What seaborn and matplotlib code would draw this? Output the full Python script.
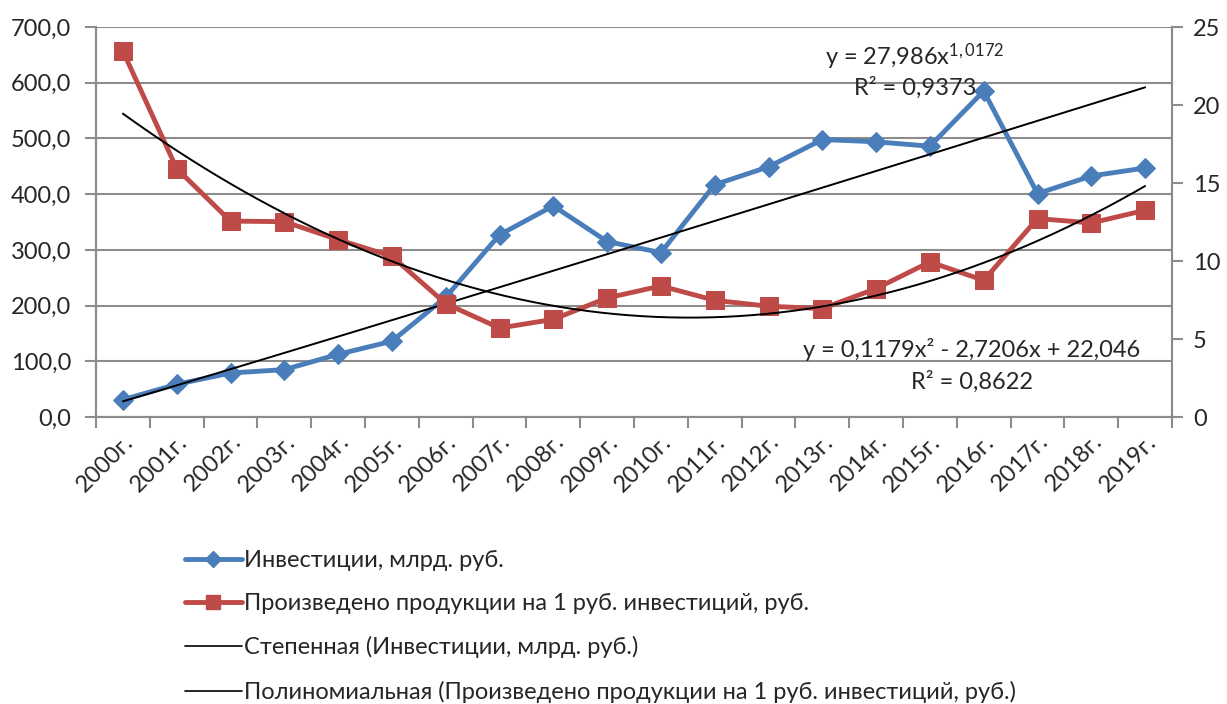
import numpy as np
import pandas as pd
import matplotlib
matplotlib.use("Agg")
import matplotlib.pyplot as plt
from matplotlib.lines import Line2D
from matplotlib.ticker import FixedLocator, FuncFormatter, NullFormatter
import seaborn as sns

years = ["2000г.", "2001г.", "2002г.", "2003г.", "2004г.", "2005г.", "2006г.",
         "2007г.", "2008г.", "2009г.", "2010г.", "2011г.", "2012г.", "2013г.",
         "2014г.", "2015г.", "2016г.", "2017г.", "2018г.", "2019г."]
invest = [31, 58.7, 79, 85, 112.5, 136, 215, 327, 379, 315, 295, 417, 449,
          498, 494, 486, 585, 401, 432.6, 447]
output_per_rub = [23.46, 15.92, 12.56, 12.52, 11.37, 10.3, 7.27, 5.7, 6.26,
                  7.63, 8.4, 7.48, 7.1, 6.95, 8.23, 9.94, 8.76, 12.72, 12.44, 13.25]

name_inv = "Инвестиции, млрд. руб."
name_out = "Произведено продукции на 1 руб. инвестиций, руб."
name_pow = "Степенная (Инвестиции, млрд. руб.)"
name_poly = "Полиномиальная (Произведено продукции на 1 руб. инвестиций, руб.)"
eq_pow = r"y = 27,986x$^{1,0172}$"
r2_pow = "R² = 0,9373"
eq_poly = "y = 0,1179x² - 2,7206x + 22,046"
r2_poly = "R² = 0,8622"

sns.set_theme(style="white")
FONT = ["Lato", "DejaVu Sans"]
plt.rcParams["font.family"] = FONT
plt.rcParams["mathtext.fontset"] = "custom"
plt.rcParams["mathtext.rm"] = "Lato"
plt.rcParams["mathtext.it"] = "Lato"
plt.rcParams["mathtext.default"] = "regular"

BLUE = "#4A7EBB"
RED = "#BE4B48"
GRID = "#8C8C8C"
FS = 17

df = pd.DataFrame({"pos": np.arange(len(years)), "year": years,
                   "inv": invest, "out": output_per_rub})

fig = plt.figure(figsize=(12.27, 7.04), dpi=100)
ax = fig.add_axes([96 / 1227, 1 - 417 / 704, (1172 - 96) / 1227, (417 - 27) / 704])
ax2 = ax.twinx()

# trend lines computed from data (Excel-style fits, x = 1..n)
t = np.arange(1, len(years) + 1, dtype=float)
b, ln_a = np.polyfit(np.log(t), np.log(np.array(invest)), 1)
tt = np.linspace(1, len(years), 300)
pow_df = pd.DataFrame({"pos": tt - 1, "val": np.exp(ln_a) * tt ** b})
pc = np.polyfit(t, np.array(output_per_rub), 2)
poly_df = pd.DataFrame({"pos": tt - 1, "val": np.polyval(pc, tt)})

sns.lineplot(data=df, x="pos", y="inv", ax=ax, color=BLUE, lw=3.5, marker="D",
             markersize=10, markeredgecolor=BLUE, zorder=3)
sns.lineplot(data=pow_df, x="pos", y="val", ax=ax, color="black", lw=1.4, zorder=4)
sns.lineplot(data=df, x="pos", y="out", ax=ax2, color=RED, lw=3.5, marker="s",
             markersize=13, markeredgecolor=RED, zorder=3)
sns.lineplot(data=poly_df, x="pos", y="val", ax=ax2, color="black", lw=1.4, zorder=4)

ax.set_ylim(0, 700)
ax2.set_ylim(0, 25)
ax.set_xlim(-0.5, len(years) - 0.5)
ax.set_yticks(np.arange(0, 701, 100))
ax2.set_yticks(np.arange(0, 26, 5))
ax.yaxis.set_major_formatter(FuncFormatter(lambda v, p: f"{v:.1f}".replace(".", ",")))
ax.grid(axis="y", color=GRID, lw=1.5)
ax.set_axisbelow(True)
ax.xaxis.set_major_locator(FixedLocator(np.arange(-0.5, len(years), 1.0)))
ax.xaxis.set_major_formatter(NullFormatter())
ax.set_xticks(np.arange(len(years)), minor=True)
ax.set_xticklabels(years, minor=True, rotation=45, ha="right",
                   rotation_mode="anchor", fontsize=FS)
ax.tick_params(axis="x", which="major", length=8, width=1.5, color=GRID, bottom=True)
ax.tick_params(axis="x", which="minor", length=0, pad=10)
ax.tick_params(axis="y", length=8, width=1.5, color=GRID, left=True, labelsize=FS,
               pad=10)
ax2.tick_params(axis="y", length=8, width=1.5, color=GRID, right=True, labelsize=FS,
                pad=7)
for a in (ax, ax2):
    a.set_xlabel("")
    a.set_ylabel("")
    a.spines["top"].set_visible(False)
    for s in ("left", "right", "bottom"):
        a.spines[s].set_color(GRID)
        a.spines[s].set_linewidth(1.5)
ax2.grid(False)

ax2.text(915 / 1227, 1 - 57 / 704, eq_pow, transform=fig.transFigure, fontsize=FS,
         ha="center", va="center", zorder=6)
ax2.text(915 / 1227, 1 - 88 / 704, r2_pow, transform=fig.transFigure, fontsize=FS,
         ha="center", va="center", zorder=6)
ax2.text(972 / 1227, 1 - 350 / 704, eq_poly, transform=fig.transFigure, fontsize=FS,
         ha="center", va="center", zorder=6)
ax2.text(972 / 1227, 1 - 382 / 704, r2_poly, transform=fig.transFigure, fontsize=FS,
         ha="center", va="center", zorder=6)

handles = [
    Line2D([], [], color=BLUE, lw=3.5, marker="D", markersize=8, markeredgecolor=BLUE),
    Line2D([], [], color=RED, lw=3.5, marker="s", markersize=10, markeredgecolor=RED),
    Line2D([], [], color="black", lw=1.2),
    Line2D([], [], color="black", lw=1.2),
]
fig.legend(handles, [name_inv, name_out, name_pow, name_poly], loc="upper left",
           bbox_to_anchor=(185 / 1227, 1 - 550 / 704), frameon=False, fontsize=FS,
           handlelength=2.4, handletextpad=0.12, labelspacing=0.94, borderpad=0,
           borderaxespad=0)

fig.savefig("out.png", dpi=100)
